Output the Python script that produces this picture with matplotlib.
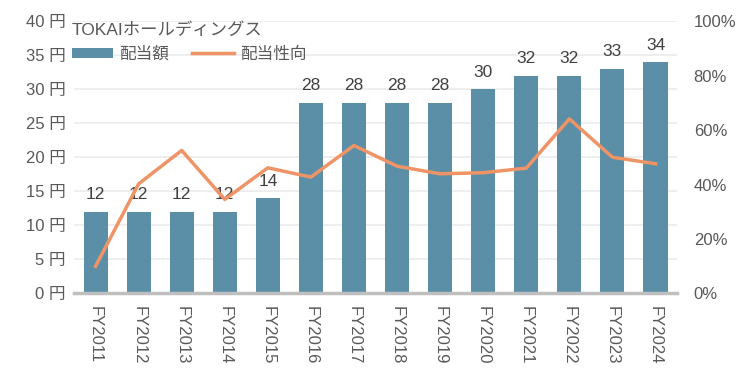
import matplotlib.pyplot as plt
import numpy as np

plt.rcParams['font.family'] = ['Liberation Sans', 'Noto Sans CJK JP', 'DejaVu Sans']

years = ['FY2011', 'FY2012', 'FY2013', 'FY2014', 'FY2015', 'FY2016', 'FY2017',
         'FY2018', 'FY2019', 'FY2020', 'FY2021', 'FY2022', 'FY2023', 'FY2024']
dividend = [12, 12, 12, 12, 14, 28, 28, 28, 28, 30, 32, 32, 33, 34]
payout = [10.0, 40.3, 52.6, 34.6, 46.2, 42.8, 54.4, 46.8, 44.0, 44.4, 46.1, 64.2, 50.1, 47.7]

bar_color = '#5B8FA8'
line_color = '#EE9466'
text_color = '#595959'

fig = plt.figure(figsize=(7.5, 3.77), dpi=100)
ax = fig.add_axes([0.0987, 0.2215, 0.804, 0.7215])
x = np.arange(len(years))

bars = ax.bar(x, dividend, width=0.56, color=bar_color, label='配当額', zorder=2)
for xi, v in zip(x, dividend):
    ax.annotate(str(v), (xi, v), xytext=(0, 7), textcoords='offset points',
                ha='center', va='bottom', fontsize=12.5, color='#404040')

ax.set_xlim(-0.5, len(years) - 0.5)
ax.set_ylim(0, 40)
ax.set_yticks(range(0, 41, 5))
ax.set_yticklabels([f'{v} 円' for v in range(0, 41, 5)])
ax.set_xticks(x)
ax.set_xticklabels(years, rotation=270)
ax.grid(axis='y', color='#EBEBEB', linewidth=1.2, zorder=0)
ax.set_axisbelow(True)
for s in ['top', 'right', 'left']:
    ax.spines[s].set_visible(False)
ax.spines['bottom'].set_color('#BFBFBF')
ax.spines['bottom'].set_linewidth(2.5)
ax.tick_params(axis='both', length=0, colors=text_color, labelsize=12)
ax.tick_params(axis='x', pad=9)
ax.tick_params(axis='y', pad=6)

ax2 = ax.twinx()
line, = ax2.plot(x, payout, color=line_color, linewidth=2.5, label='配当性向', zorder=3)
ax2.set_ylim(0, 100)
ax2.set_yticks(range(0, 101, 20))
ax2.set_yticklabels([f'{v}%' for v in range(0, 101, 20)])
for s in ax2.spines.values():
    s.set_visible(False)
ax2.tick_params(axis='y', length=0, colors=text_color, labelsize=12, pad=12)

leg = ax.legend(handles=[bars, line], loc='upper left', ncol=2, frameon=False,
                title='TOKAIホールディングス', fontsize=12, title_fontsize=12.5,
                bbox_to_anchor=(-0.015, 1.02), borderaxespad=0, handlelength=2.5,
                handleheight=0.6, columnspacing=1.4, handletextpad=0.35)
leg._legend_box.align = 'left'
leg.get_title().set_color(text_color)
for t in leg.get_texts():
    t.set_color(text_color)

fig.savefig('out.png', dpi=100)
